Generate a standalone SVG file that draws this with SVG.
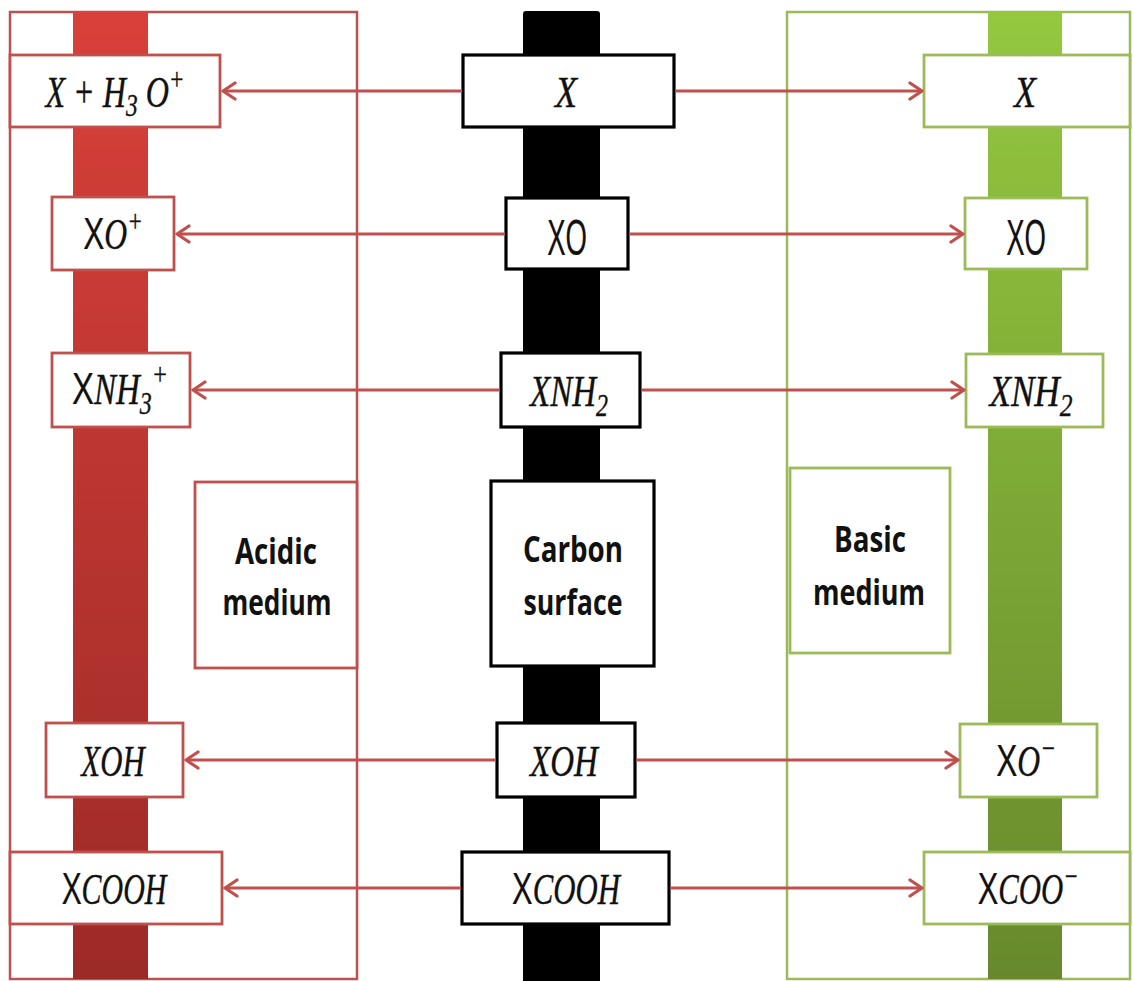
<svg xmlns="http://www.w3.org/2000/svg" width="1133" height="981" viewBox="0 0 1133 981">
<defs>
<linearGradient id="gRed" x1="0" y1="0" x2="0" y2="1">
<stop offset="0" stop-color="#d9403a"/>
<stop offset="1" stop-color="#9c2a27"/>
</linearGradient>
<linearGradient id="gGreen" x1="0" y1="0" x2="0" y2="1">
<stop offset="0" stop-color="#93c83f"/>
<stop offset="1" stop-color="#67892c"/>
</linearGradient>
<marker id="arr" markerUnits="userSpaceOnUse" markerWidth="18" markerHeight="20" viewBox="0 0 18 20" refX="15" refY="10" orient="auto">
<path d="M3,2 L15,10 L3,18" fill="none" stroke="#c0504d" stroke-width="3.2" stroke-linecap="round" stroke-linejoin="round"/>
</marker>
<style>
.rbox{fill:#fff;stroke:#c0504d;stroke-width:2.8}
.gbox{fill:#fff;stroke:#9bbb59;stroke-width:2.8}
.kbox{fill:#fff;stroke:#000;stroke-width:3.2}
.m{font-family:"Liberation Serif","DejaVu Serif",serif;font-style:italic;font-size:44px;fill:#111;stroke:#111;stroke-width:0.4}
.u{font-family:"Liberation Sans",Arial,sans-serif;font-style:normal;stroke-width:0.2}
.s{font-size:32px}
.lab{font-family:"Open Sans","Liberation Sans",sans-serif;font-weight:700;font-size:36px;fill:#111}
.con{stroke:#c0504d;stroke-width:3.2;fill:none;marker-end:url(#arr)}
</style>
</defs>
<rect width="1133" height="981" fill="#fff"/>

<g id="acidic-column">
<rect x="10" y="12" width="347" height="967" fill="#fff" stroke="#c0504d" stroke-width="2.5"/>
<rect x="73" y="12" width="75" height="967" fill="url(#gRed)"/>
</g>
<g id="carbon-column">
<rect x="523" y="11" width="77" height="975" rx="3" fill="#000"/>
</g>
<g id="basic-column">
<rect x="787" y="12" width="343" height="967" fill="#fff" stroke="#9bbb59" stroke-width="2.5"/>
<rect x="988" y="12" width="74" height="967" fill="url(#gGreen)"/>
</g>

<g id="label-acidic">
<rect class="rbox" x="195" y="482" width="162" height="186"/>
<text class="lab" x="276" y="564" text-anchor="middle" textLength="82" lengthAdjust="spacingAndGlyphs">Acidic</text>
<text class="lab" x="277" y="615" text-anchor="middle" textLength="109" lengthAdjust="spacingAndGlyphs">medium</text>
</g>
<g id="label-carbon">
<rect class="kbox" x="491" y="481" width="163" height="185"/>
<text class="lab" x="573" y="562" text-anchor="middle" textLength="100" lengthAdjust="spacingAndGlyphs">Carbon</text>
<text class="lab" x="573" y="615" text-anchor="middle" textLength="99" lengthAdjust="spacingAndGlyphs">surface</text>
</g>
<g id="label-basic">
<rect class="gbox" x="790" y="468" width="160" height="185"/>
<text class="lab" x="870" y="552" text-anchor="middle" textLength="72" lengthAdjust="spacingAndGlyphs">Basic</text>
<text class="lab" x="869" y="605" text-anchor="middle" textLength="112" lengthAdjust="spacingAndGlyphs">medium</text>
</g>

<!-- left nodes -->
<g id="a-x">
<rect class="rbox" x="10" y="55" width="210" height="72"/>
<g transform="translate(115,107) scale(0.73,1)"><text class="m" text-anchor="middle">X + H<tspan class="s" dy="9">3</tspan><tspan dy="-9"> O</tspan><tspan class="s" dy="-17">+</tspan></text></g>
</g>
<g id="a-xo">
<rect class="rbox" x="52" y="197" width="122" height="73"/>
<g transform="translate(113,249) scale(0.72,1)"><text class="m" text-anchor="middle"><tspan class="u">X</tspan>O<tspan class="s" dy="-17">+</tspan></text></g>
</g>
<g id="a-xnh">
<rect class="rbox" x="52" y="353" width="138" height="74"/>
<g transform="translate(120,404) scale(0.75,1)"><text class="m" text-anchor="middle"><tspan class="u">X</tspan>NH<tspan class="s" dy="10">3</tspan><tspan class="s" dy="-29">+</tspan></text></g>
</g>
<g id="a-xoh">
<rect class="rbox" x="46" y="723" width="137" height="74"/>
<g transform="translate(113,776) scale(0.7,1)"><text class="m" text-anchor="middle">XOH</text></g>
</g>
<g id="a-xcooh">
<rect class="rbox" x="10" y="852" width="212" height="72"/>
<g transform="translate(114,904) scale(0.68,1)"><text class="m" text-anchor="middle"><tspan class="u">X</tspan>COOH</text></g>
</g>

<!-- center nodes -->
<g id="c-x">
<rect class="kbox" x="463" y="55" width="211" height="72"/>
<g transform="translate(566,107) scale(0.82,1)"><text class="m" text-anchor="middle">X</text></g>
</g>
<g id="c-xo">
<rect class="kbox" x="506" y="198" width="122" height="71"/>
<g transform="translate(567,255) scale(0.55,1)"><text class="m u" style="font-size:50px" text-anchor="middle">XO</text></g>
</g>
<g id="c-xnh">
<rect class="kbox" x="501" y="353" width="139" height="74"/>
<g transform="translate(569,406) scale(0.75,1)"><text class="m" text-anchor="middle">XNH<tspan class="s" dy="10">2</tspan></text></g>
</g>
<g id="c-xoh">
<rect class="kbox" x="497" y="723" width="138" height="74"/>
<g transform="translate(564,776) scale(0.75,1)"><text class="m" text-anchor="middle">XOH</text></g>
</g>
<g id="c-xcooh">
<rect class="kbox" x="462" y="852" width="207" height="72"/>
<g transform="translate(566,904) scale(0.7,1)"><text class="m" text-anchor="middle"><tspan class="u">X</tspan>COOH</text></g>
</g>

<!-- right nodes -->
<g id="b-x">
<rect class="gbox" x="924" y="55" width="206" height="72"/>
<g transform="translate(1025,107) scale(0.82,1)"><text class="m" text-anchor="middle">X</text></g>
</g>
<g id="b-xo">
<rect class="gbox" x="965" y="198" width="122" height="71"/>
<g transform="translate(1026,255) scale(0.55,1)"><text class="m u" style="font-size:50px" text-anchor="middle">XO</text></g>
</g>
<g id="b-xnh">
<rect class="gbox" x="966" y="354" width="137" height="73"/>
<g transform="translate(1031,406) scale(0.8,1)"><text class="m" text-anchor="middle">XNH<tspan class="s" dy="10">2</tspan></text></g>
</g>
<g id="b-xo-">
<rect class="gbox" x="960" y="724" width="137" height="73"/>
<g transform="translate(1026,776) scale(0.72,1)"><text class="m" text-anchor="middle"><tspan class="u">X</tspan>O<tspan class="s" dy="-17">−</tspan></text></g>
</g>
<g id="b-xcoo">
<rect class="gbox" x="924" y="852" width="206" height="72"/>
<g transform="translate(1028,904) scale(0.7,1)"><text class="m" text-anchor="middle"><tspan class="u">X</tspan>COO<tspan class="s" dy="-17">−</tspan></text></g>
</g>

<g id="connectors">
<line class="con" x1="462" y1="91" x2="223" y2="91"/>
<line class="con" x1="675" y1="91" x2="922" y2="91"/>
<line class="con" x1="505" y1="234" x2="177" y2="234"/>
<line class="con" x1="629" y1="234" x2="963" y2="234"/>
<line class="con" x1="500" y1="390" x2="193" y2="390"/>
<line class="con" x1="641" y1="390" x2="964" y2="390"/>
<line class="con" x1="496" y1="760" x2="186" y2="760"/>
<line class="con" x1="636" y1="760" x2="958" y2="760"/>
<line class="con" x1="461" y1="888" x2="225" y2="888"/>
<line class="con" x1="670" y1="888" x2="922" y2="888"/>
</g>
</svg>
